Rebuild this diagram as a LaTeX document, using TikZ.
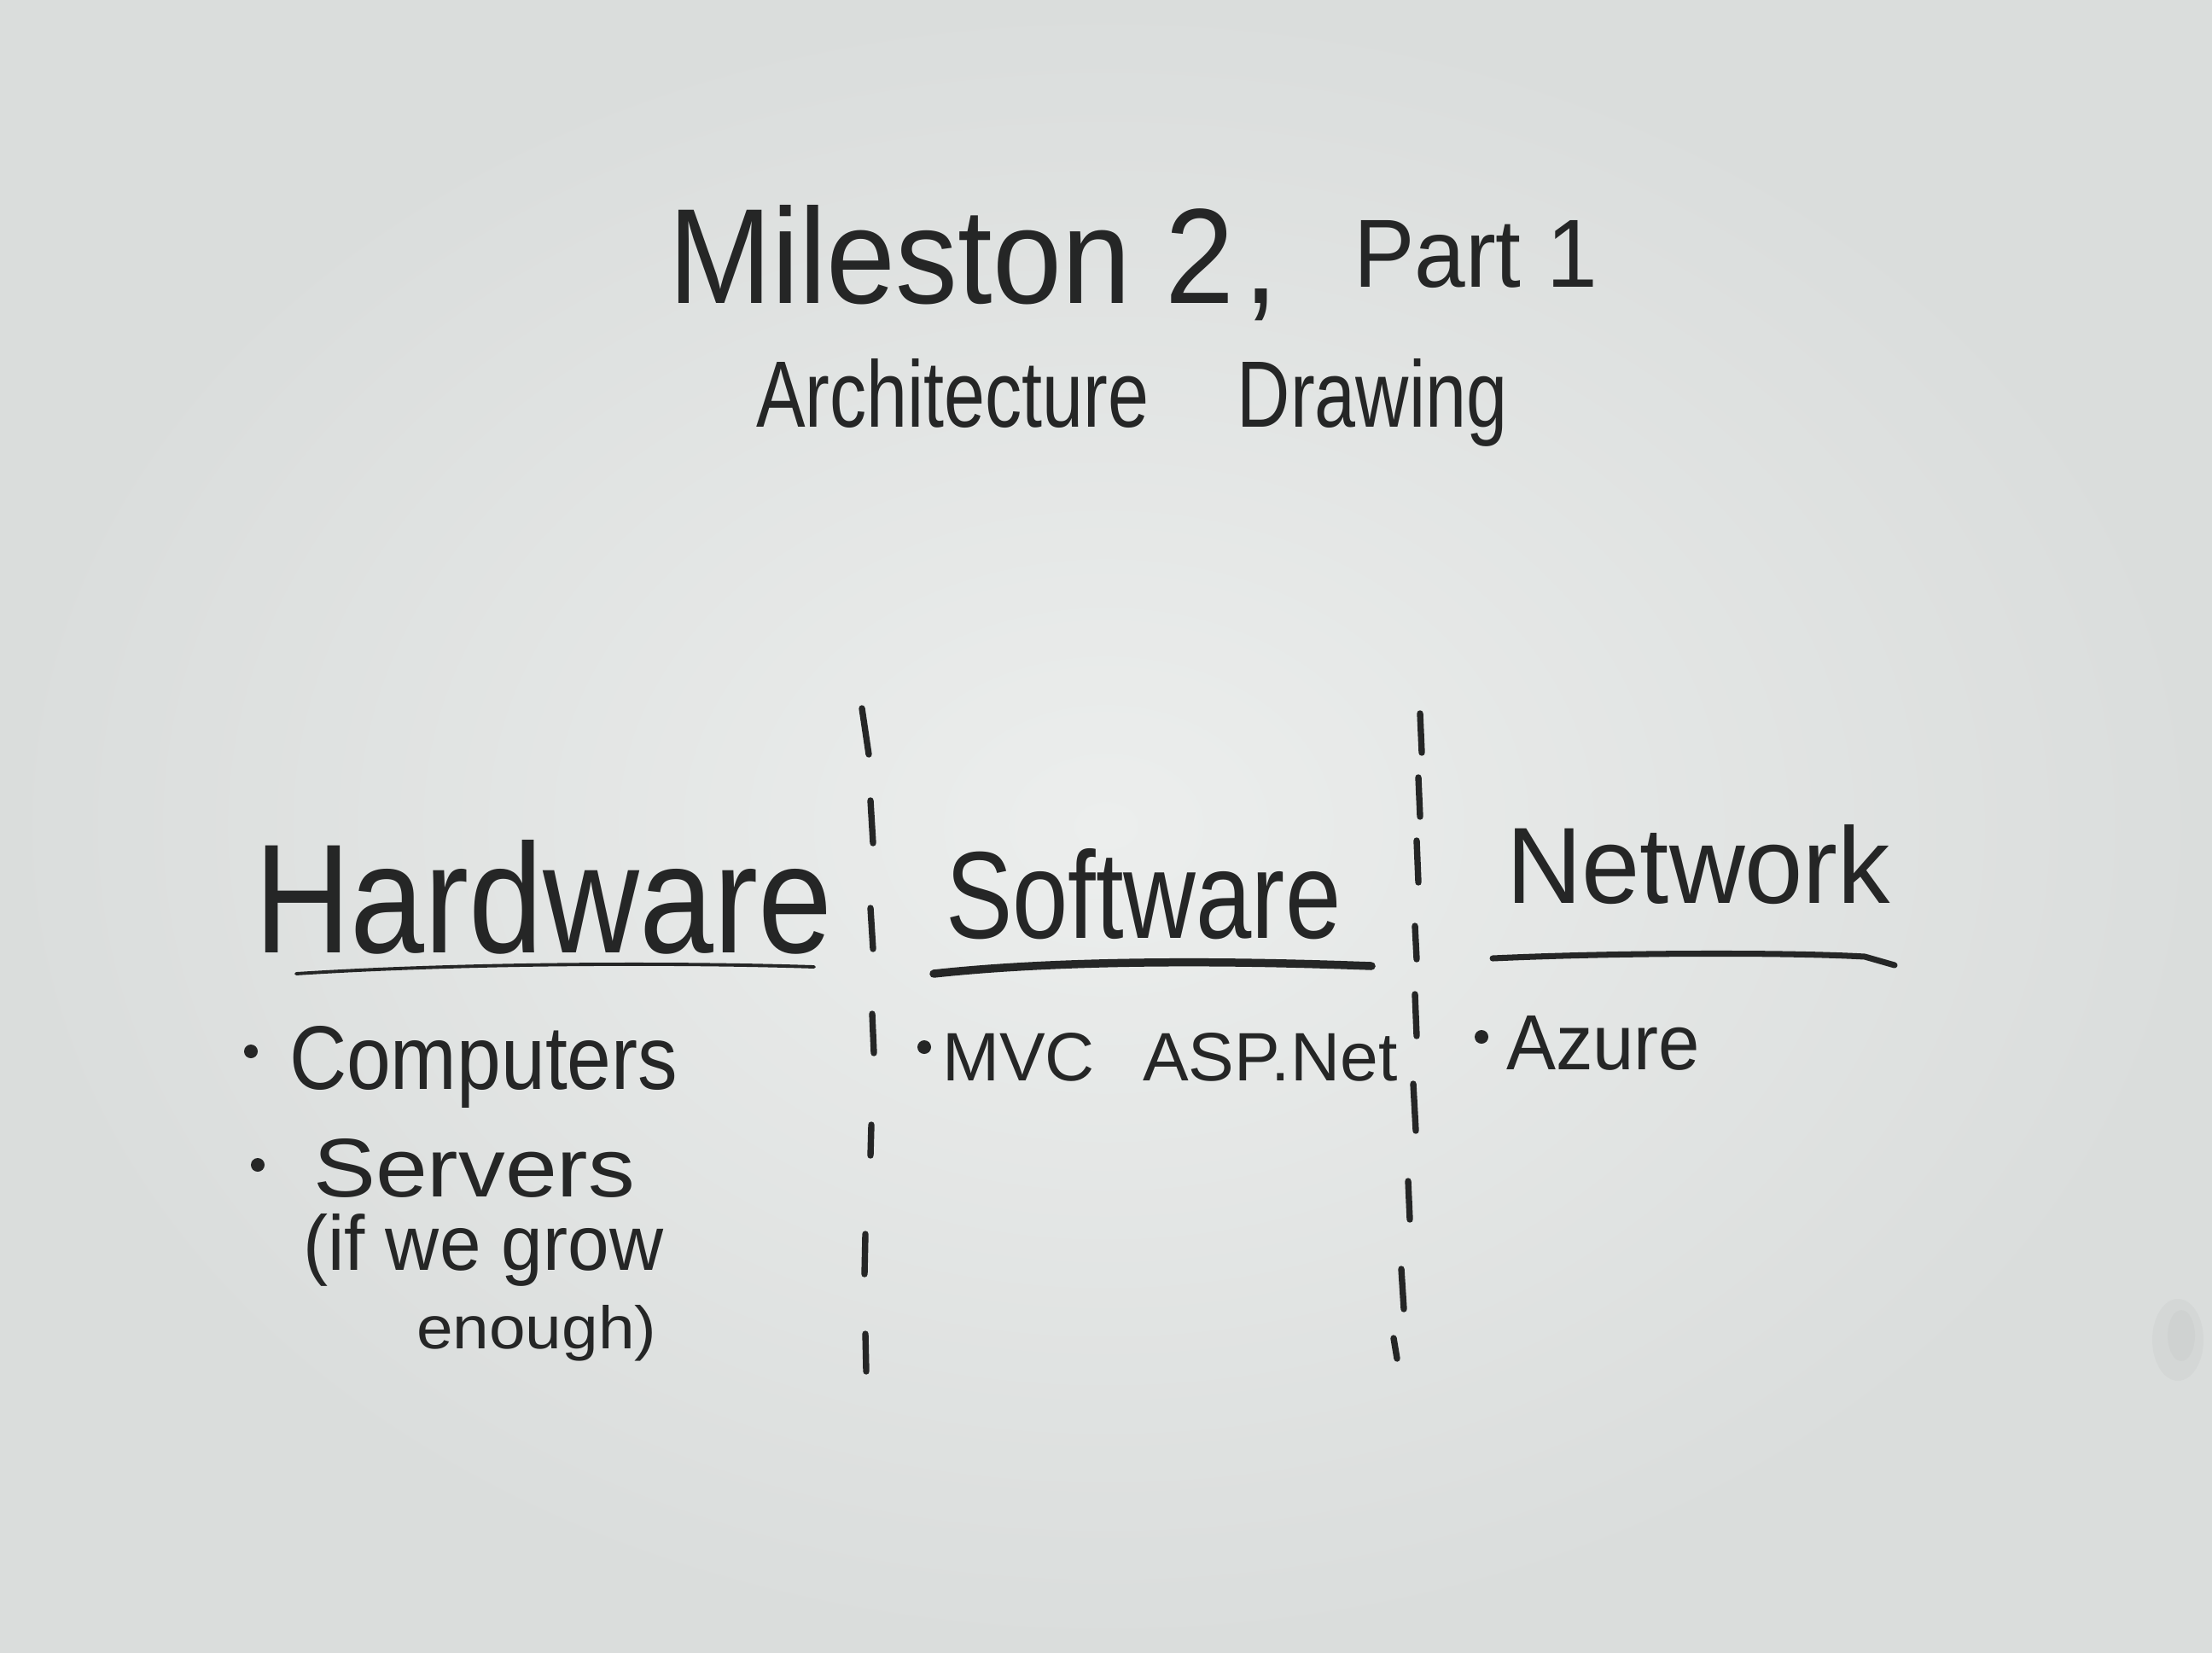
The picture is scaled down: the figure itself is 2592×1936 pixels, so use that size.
\documentclass[tikz,border=0pt]{standalone}
\usepackage{fontspec}
\setmainfont{Liberation Sans}
\usepackage{graphicx}
\definecolor{ink}{HTML}{252626}
\definecolor{boardin}{HTML}{ECEEED}
\definecolor{boardout}{HTML}{DADDDC}
\begin{document}
\begin{tikzpicture}[x=0.01cm,y=-0.01cm,
  txt/.style={anchor=base west, inner sep=0pt, outer sep=0pt, text=ink},
  dsh/.style={draw=ink, line width=2.1pt, line cap=round},
  uline/.style={draw=ink, line cap=round},
  dotmark/.style={circle, fill=ink, inner sep=0pt, minimum size=0.16cm}]
\shade[inner color=boardin, outer color=boardout] (0,0) rectangle (2592,1936);
\useasboundingbox (0,0) rectangle (2592,1936);
% faint smudge at right edge
\fill[ink, opacity=0.03] (2552,1570) ellipse [x radius=30, y radius=48];
\fill[ink, opacity=0.025] (2556,1565) ellipse [x radius=16, y radius=30];

% title
\node[txt] (title) at (783,355) {\resizebox{7.15cm}{1.15cm}{Mileston 2\hspace{0.08em},}};
\node[txt] (part) at (1586,336) {\resizebox{2.86cm}{0.78cm}{Part 1}};
\node[txt] (subtitle) at (886,500) {\resizebox{8.80cm}{0.80cm}{Architecture\hspace{1.2em}Drawing}};

% column headings
\node[txt] (hw) at (298,1116) {\resizebox{6.77cm}{1.32cm}{Hardware}};
\node[txt] (sw) at (1108,1099) {\resizebox{4.63cm}{1.05cm}{Software}};
\node[txt] (nw) at (1765,1058) {\resizebox{4.50cm}{0.92cm}{Network}};

% underlines
\draw[uline, line width=1.1pt] (347,1141) .. controls (550,1128) and (800,1128) .. (954,1133);
\draw[uline, line width=2.7pt] (1094,1141) .. controls (1250,1124) and (1450,1126) .. (1607,1132);
\draw[uline, line width=2.0pt] (1749,1123) .. controls (1900,1116) and (2100,1116) .. (2185,1121) -- (2220,1131);

% dashed separators
\foreach \a/\b/\c/\d in {1010/830/1018/884, 1020/938/1023/988, 1020/1064/1023/1112,
  1022/1188/1024/1234, 1021/1318/1020/1354, 1014/1446/1013/1493, 1014/1563/1015/1607}
  \draw[dsh] (\a,\b) -- (\c,\d);
\foreach \a/\b/\c/\d in {1664/836/1666/882, 1662/911/1664/957, 1660/985/1662/1034,
  1658/1085/1660/1124, 1658/1165/1660/1214, 1656/1270/1659/1325, 1650/1384/1652/1429,
  1642/1487/1645/1534, 1633/1568/1637/1592}
  \draw[dsh] (\a,\b) -- (\c,\d);

% hardware items
\node[dotmark] (b1) at (294,1232) {};
\node[txt] (comp) at (339,1276) {\resizebox{4.55cm}{0.74cm}{Computers}};
\node[dotmark] (b2) at (302,1365) {};
\node[txt] (serv) at (367,1402) {\resizebox{3.77cm}{0.68cm}{Servers}};
\node[txt] (grow) at (355,1488) {\resizebox{4.22cm}{0.66cm}{(if we grow}};
\node[txt] (enough) at (488,1580) {\resizebox{2.81cm}{0.51cm}{enough)}};

% software items
\node[dotmark] (b3) at (1083,1227) {};
\node[txt] (mvc) at (1104,1266) {\resizebox{5.33cm}{0.56cm}{MVC\hspace{0.7em}ASP.Net}};

% network items
\node[dotmark] (b4) at (1736,1215) {};
\node[txt] (azure) at (1765,1253) {\resizebox{2.27cm}{0.63cm}{Azure}};
\end{tikzpicture}
\end{document}
